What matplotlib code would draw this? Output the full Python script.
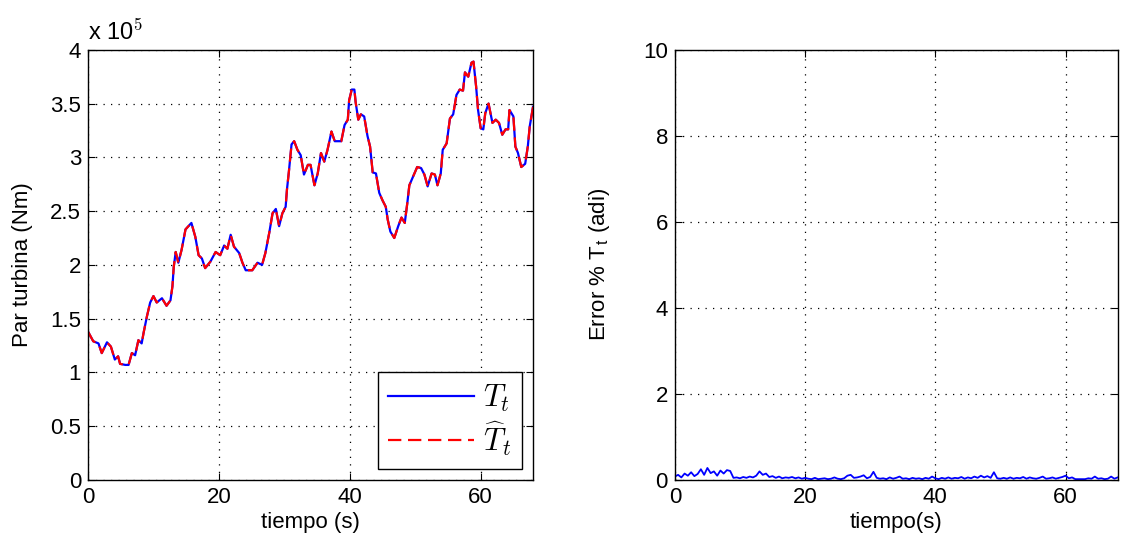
import numpy as np
import matplotlib.pyplot as plt

plt.rcParams['font.family'] = ['Liberation Sans', 'DejaVu Sans']
plt.rcParams['mathtext.fontset'] = 'cm'

# par turbina, en unidades de 1e5 Nm
t_par = [0.0, 0.8, 1.6, 2.1, 2.9, 3.5, 4.1, 4.6, 4.9, 5.7, 6.2, 6.7, 7.2, 7.7, 8.2, 8.5,
         9.0, 9.5, 10.0, 10.5, 11.3, 12.0, 12.6, 12.9, 13.1, 13.4, 13.8, 14.3, 14.9, 15.8,
         16.4, 16.9, 17.4, 17.9, 18.7, 19.5, 20.2, 20.8, 21.3, 21.8, 22.3, 23.1, 23.6, 24.1,
         25.1, 25.9, 26.6, 27.1, 27.7, 28.2, 28.7, 29.2, 29.7, 30.2, 30.4, 30.7, 31.1, 31.5,
         32.0, 32.5, 33.0, 33.6, 34.0, 34.6, 35.1, 35.6, 36.1, 36.6, 37.2, 37.7, 38.7, 39.2,
         39.7, 39.9, 40.3, 40.7, 40.9, 41.3, 41.7, 42.2, 42.7, 43.1, 43.5, 44.0, 44.5, 45.0,
         45.5, 45.8, 46.2, 46.8, 47.4, 47.9, 48.4, 48.8, 49.1, 49.6, 50.3, 50.9, 51.4, 51.9,
         52.5, 53.0, 53.4, 53.9, 54.2, 54.8, 55.3, 55.8, 56.3, 56.8, 57.3, 57.6, 58.1, 58.6,
         58.9, 59.3, 59.6, 60.0, 60.4, 60.7, 61.2, 61.8, 62.3, 62.8, 63.3, 63.8, 64.2, 64.4,
         65.0, 65.3, 65.7, 66.2, 66.8, 67.2, 67.5, 67.9, 68.0]
Tt = [1.38, 1.29, 1.27, 1.18, 1.28, 1.24, 1.12, 1.15, 1.08, 1.07, 1.07, 1.18, 1.16, 1.30, 1.27, 1.37,
      1.52, 1.65, 1.71, 1.65, 1.69, 1.62, 1.67, 1.80, 1.98, 2.12, 2.02, 2.14, 2.33, 2.39,
      2.26, 2.09, 2.06, 1.97, 2.03, 2.12, 2.09, 2.18, 2.15, 2.28, 2.17, 2.11, 2.02, 1.95,
      1.95, 2.02, 2.00, 2.11, 2.30, 2.48, 2.52, 2.36, 2.48, 2.54, 2.70, 2.87, 3.12, 3.15,
      3.07, 3.02, 2.84, 2.93, 2.93, 2.74, 2.85, 3.04, 2.96, 3.07, 3.24, 3.15, 3.15, 3.30,
      3.35, 3.53, 3.63, 3.63, 3.51, 3.35, 3.40, 3.38, 3.20, 3.10, 2.86, 2.85, 2.67, 2.60,
      2.54, 2.42, 2.31, 2.25, 2.36, 2.44, 2.39, 2.58, 2.74, 2.81, 2.91, 2.90, 2.84, 2.73,
      2.85, 2.84, 2.74, 2.85, 3.07, 3.13, 3.36, 3.40, 3.58, 3.63, 3.62, 3.79, 3.75, 3.88,
      3.89, 3.66, 3.44, 3.27, 3.26, 3.41, 3.50, 3.32, 3.35, 3.32, 3.21, 3.26, 3.26, 3.44,
      3.38, 3.10, 3.04, 2.91, 2.94, 3.10, 3.29, 3.43, 3.47]
Tt_est = list(Tt)

# error porcentual, muestras cada 0.5 s
err = [0.08, 0.12, 0.06, 0.15, 0.10, 0.18, 0.09, 0.14, 0.25, 0.12, 0.28, 0.16, 0.20, 0.10, 0.22, 0.15, 0.23, 0.21,
       0.05, 0.06, 0.04, 0.07, 0.05, 0.08, 0.06, 0.10,
       0.20, 0.12, 0.15, 0.07, 0.09, 0.05, 0.08, 0.04, 0.06, 0.05, 0.07, 0.04, 0.06, 0.03, 0.05,
       0.03, 0.02, 0.05, 0.02, 0.03, 0.04, 0.02, 0.03, 0.06, 0.03, 0.02, 0.04,
       0.10, 0.12, 0.05, 0.06, 0.08, 0.11, 0.04, 0.07, 0.19, 0.05, 0.03, 0.04, 0.02, 0.06, 0.03, 0.05,
       0.08, 0.03, 0.04, 0.02, 0.05, 0.03, 0.04, 0.02, 0.05, 0.03, 0.08, 0.04, 0.02, 0.05, 0.03, 0.06,
       0.03, 0.05, 0.04, 0.07, 0.03, 0.06, 0.04, 0.08, 0.05, 0.10, 0.06, 0.09, 0.05, 0.18, 0.04, 0.03,
       0.05, 0.03, 0.06, 0.03, 0.05, 0.04, 0.07, 0.03, 0.06, 0.04, 0.03, 0.05, 0.08, 0.03, 0.04, 0.06,
       0.03, 0.05, 0.07, 0.10, 0.04, 0.06, 0.02, 0.02, 0.02, 0.02, 0.04, 0.03, 0.08, 0.03, 0.04, 0.02,
       0.03, 0.08, 0.03, 0.06]
t_err = np.arange(len(err)) * 0.5

fig = plt.figure(figsize=(11.21, 5.53), dpi=100)
ax1 = fig.add_axes([0.0785, 0.132, 0.397, 0.778])
ax2 = fig.add_axes([0.602, 0.132, 0.395, 0.778])

for ax in (ax1, ax2):
    ax.tick_params(direction='in', top=True, right=True, labelsize=16, length=5, pad=5)
    ax.grid(True, color='black', linestyle=(0, (1, 5)), linewidth=0.9)
    for s in ax.spines.values():
        s.set_linewidth(1.0)
    ax.set_xlim(0, 68)
    ax.set_xticks([0, 20, 40, 60])

ax1.plot(t_par, Tt, color='blue', lw=1.6, label=r'$T_t$')
ax1.plot(t_par, Tt_est, color='red', lw=1.6, dashes=(6, 3), label=r'$\widehat{T}_t$')
ax1.set_ylim(0, 4)
ax1.set_yticks(np.arange(0, 4.01, 0.5))
ax1.set_yticklabels(['0', '0.5', '1', '1.5', '2', '2.5', '3', '3.5', '4'])
ax1.set_xlabel('tiempo (s)', fontsize=16, labelpad=3)
ax1.set_ylabel('Par turbina (Nm)', fontsize=16, labelpad=12)
ax1.text(0, 1.012, r'x 10$^{5}$', transform=ax1.transAxes, fontsize=17, va='bottom')
leg = ax1.legend(loc='lower right', fontsize=22, fancybox=False, framealpha=1,
                 edgecolor='black', handlelength=2.8, handletextpad=0.3,
                 borderaxespad=0.36, labelspacing=0.2, borderpad=0.35)
leg.get_frame().set_linewidth(1.0)

ax2.plot(t_err, err, color='blue', lw=1.3)
ax2.set_ylim(0, 10)
ax2.set_yticks([0, 2, 4, 6, 8, 10])
ax2.set_xlabel('tiempo(s)', fontsize=16, labelpad=3)
ax2.set_ylabel(r'Error % T$_{\mathregular{t}}$ (adi)', fontsize=16, labelpad=22)

fig.savefig('out.png', dpi=100)
